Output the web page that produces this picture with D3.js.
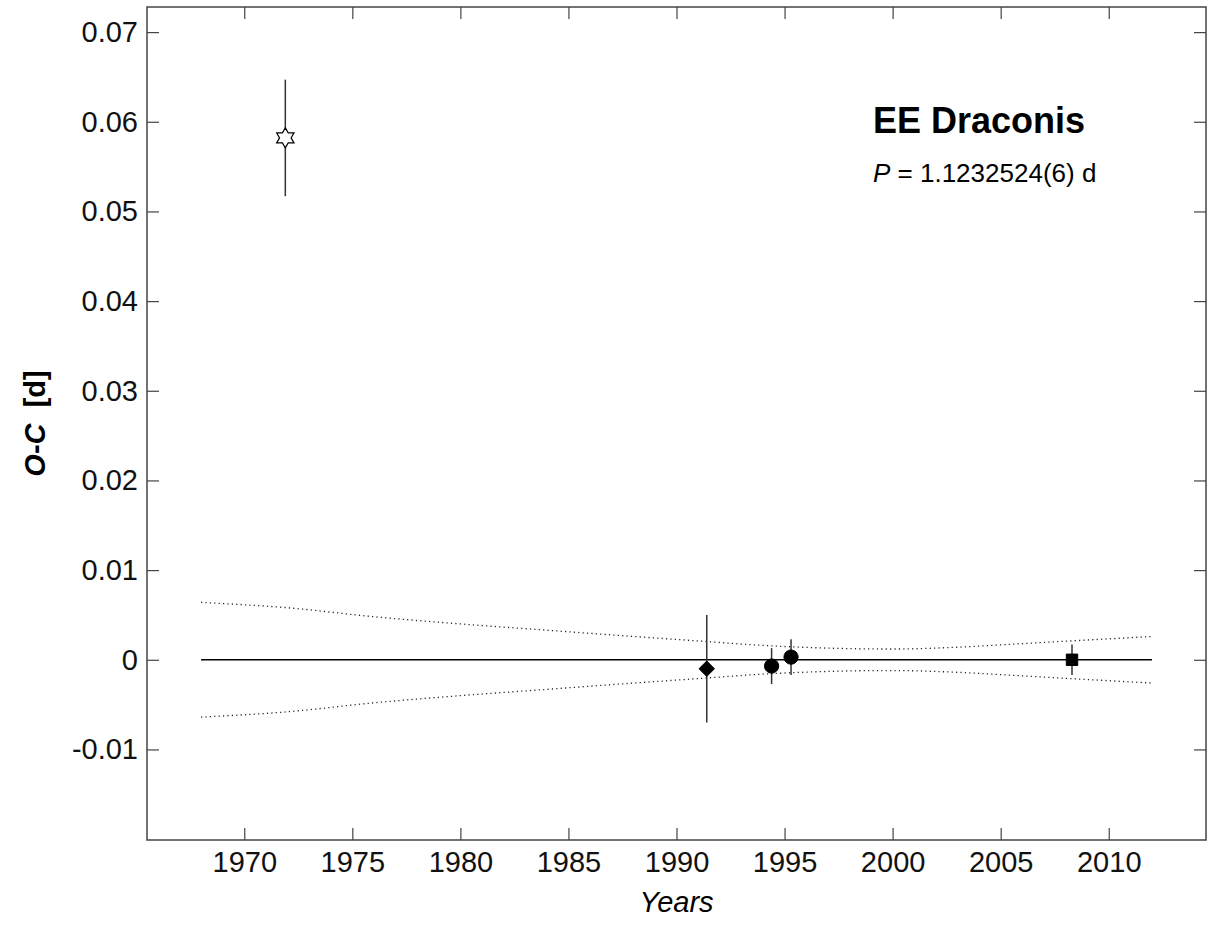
<!DOCTYPE html>
<html>
<head>
<meta charset="utf-8">
<script src="https://cdn.jsdelivr.net/npm/d3@7"></script>
<style>
  body { margin: 0; background: #fff; }
  svg { display: block; font-family: "Liberation Sans", Arial, sans-serif; }
</style>
</head>
<body>
<div id="chart"></div>
<script>
// O-C values per epoch
const obsYears  = [1971.9, 1991.4, 1994.4, 1995.3, 2008.3];
const obsOC     = [0.0582, -0.0010, -0.0007, 0.0003, 0.0000];
const obsErr    = [0.0065, 0.0060, 0.0020, 0.0020, 0.0017];
const obsSymbol = ['star', 'diamond', 'circle', 'circle', 'square'];

// linear ephemeris and its confidence band (dotted)
const fitYears  = [1968, 2012];
const fitOC     = [0, 0];
const bandYears = [1968, 1972, 1976, 1980, 1984, 1988, 1991, 1994, 1997, 2000, 2003, 2006, 2009, 2012];
const bandUpper = [0.0064, 0.0058, 0.0048, 0.0040, 0.0033, 0.0026, 0.0021, 0.0016, 0.0013, 0.0012, 0.0014, 0.0018, 0.0022, 0.0026];
const bandLower = [-0.0064, -0.0058, -0.0048, -0.0040, -0.0033, -0.0026, -0.0021, -0.0016, -0.0013, -0.0012, -0.0014, -0.0018, -0.0022, -0.0026];

const xTicks = [1970, 1975, 1980, 1985, 1990, 1995, 2000, 2005, 2010];
const yTicks = [-0.01, 0, 0.01, 0.02, 0.03, 0.04, 0.05, 0.06, 0.07];
const yTickLabels = ['-0.01', '0', '0.01', '0.02', '0.03', '0.04', '0.05', '0.06', '0.07'];

const W = 1211, H = 926;
const margin = { top: 7, right: 5, bottom: 86, left: 147 };
const w = W - margin.left - margin.right;
const h = H - margin.top - margin.bottom;
const axisColor = '#444';

const svg = d3.select('#chart').append('svg')
  .attr('width', W)
  .attr('height', H);

const g = svg.append('g')
  .attr('transform', `translate(${margin.left},${margin.top})`);

const x = d3.scaleLinear().domain([1965.5, 2014.5]).range([0, w]);
const y = d3.scaleLinear().domain([-0.0201, 0.0728]).range([h, 0]);

// axes, ticks point inward on all four sides
const styleAxis = (sel, size) => {
  sel.select('.domain').remove();
  sel.selectAll('.tick line').attr('stroke', axisColor).attr('stroke-width', 1.2);
  sel.selectAll('.tick text')
    .attr('fill', '#111')
    .style('font-size', size + 'px');
};

g.append('g')
  .attr('transform', `translate(0,${h})`)
  .call(d3.axisBottom(x).tickValues(xTicks).tickFormat(d3.format('d')).tickSizeInner(-12).tickSizeOuter(0).tickPadding(11))
  .call(s => styleAxis(s, 29));

g.append('g')
  .call(d3.axisTop(x).tickValues(xTicks).tickFormat('').tickSizeInner(-12).tickSizeOuter(0))
  .call(s => styleAxis(s, 29));

g.append('g')
  .call(d3.axisLeft(y).tickValues(yTicks).tickFormat((d, i) => yTickLabels[i]).tickSizeInner(-12).tickSizeOuter(0).tickPadding(9))
  .call(s => styleAxis(s, 29));

g.append('g')
  .attr('transform', `translate(${w},0)`)
  .call(d3.axisRight(y).tickValues(yTicks).tickFormat('').tickSizeInner(-12).tickSizeOuter(0))
  .call(s => styleAxis(s, 29));

g.append('rect')
  .attr('width', w)
  .attr('height', h)
  .attr('fill', 'none')
  .attr('stroke', axisColor)
  .attr('stroke-width', 1.5);

// fit + band
const line = d3.line().x(d => x(d[0])).y(d => y(d[1]));

g.append('path')
  .datum(d3.zip(fitYears, fitOC))
  .attr('fill', 'none')
  .attr('stroke', '#000')
  .attr('stroke-width', 1.3)
  .attr('d', line);

[bandUpper, bandLower].forEach(band => {
  g.append('path')
    .datum(d3.zip(bandYears, band))
    .attr('fill', 'none')
    .attr('stroke', '#222')
    .attr('stroke-width', 1.3)
    .attr('stroke-dasharray', '1.2,3.2')
    .attr('d', d3.line().curve(d3.curveMonotoneX).x(d => x(d[0])).y(d => y(d[1])));
});

// error bars
const obs = obsYears.map((yr, i) => ({ yr, oc: obsOC[i], err: obsErr[i], sym: obsSymbol[i] }));

g.selectAll('.err')
  .data(obs)
  .join('line')
  .attr('class', 'err')
  .attr('x1', d => x(d.yr)).attr('x2', d => x(d.yr))
  .attr('y1', d => y(d.oc + d.err)).attr('y2', d => y(d.oc - d.err))
  .attr('stroke', '#333')
  .attr('stroke-width', 1.5);

// six-pointed star
const hexagram = {
  draw(ctx, size) {
    const r = Math.sqrt(size) * 0.62, ri = r * 0.577;
    for (let k = 0; k < 12; k++) {
      const a = -Math.PI / 2 + k * Math.PI / 6;
      const rr = k % 2 === 0 ? r : ri;
      if (k === 0) ctx.moveTo(rr * Math.cos(a), rr * Math.sin(a));
      else ctx.lineTo(rr * Math.cos(a), rr * Math.sin(a));
    }
    ctx.closePath();
  }
};

// square turned 45deg (matlab-style diamond)
const diamond = {
  draw(ctx, size) {
    const r = Math.sqrt(size / 2);
    ctx.moveTo(0, -r);
    ctx.lineTo(r, 0);
    ctx.lineTo(0, r);
    ctx.lineTo(-r, 0);
    ctx.closePath();
  }
};

const symbolType = { star: hexagram, diamond: diamond, circle: d3.symbolCircle, square: d3.symbolSquare };
const symbolSize = { star: 260, diamond: 120, circle: 160, square: 130 };

g.selectAll('.pt')
  .data(obs)
  .join('path')
  .attr('class', 'pt')
  .attr('transform', d => `translate(${x(d.yr)},${y(d.oc)})`)
  .attr('d', d => d3.symbol().type(symbolType[d.sym]).size(symbolSize[d.sym])())
  .attr('fill', d => d.sym === 'star' ? '#fff' : '#000')
  .attr('stroke', '#000')
  .attr('stroke-width', d => d.sym === 'star' ? 1.2 : 1);

// labels
svg.append('text')
  .attr('x', margin.left + w / 2)
  .attr('y', 912)
  .attr('text-anchor', 'middle')
  .style('font-size', '29px')
  .style('font-style', 'italic')
  .text('Years');

const yl = svg.append('text')
  .attr('transform', `translate(45,${margin.top + h / 2}) rotate(-90)`)
  .attr('text-anchor', 'middle')
  .style('font-size', '29px')
  .style('font-weight', 'bold');
yl.append('tspan').style('font-style', 'italic').text('O');
yl.append('tspan').text('-');
yl.append('tspan').style('font-style', 'italic').text('C');
yl.append('tspan').attr('xml:space', 'preserve').text('  [d]');

svg.append('text')
  .attr('x', 873)
  .attr('y', 133)
  .style('font-size', '36px')
  .style('font-weight', 'bold')
  .text('EE Draconis');

const pl = svg.append('text')
  .attr('x', 873)
  .attr('y', 182)
  .style('font-size', '26px');
pl.append('tspan').style('font-style', 'italic').text('P');
pl.append('tspan').text(' = 1.1232524(6) d');
</script>
</body>
</html>
